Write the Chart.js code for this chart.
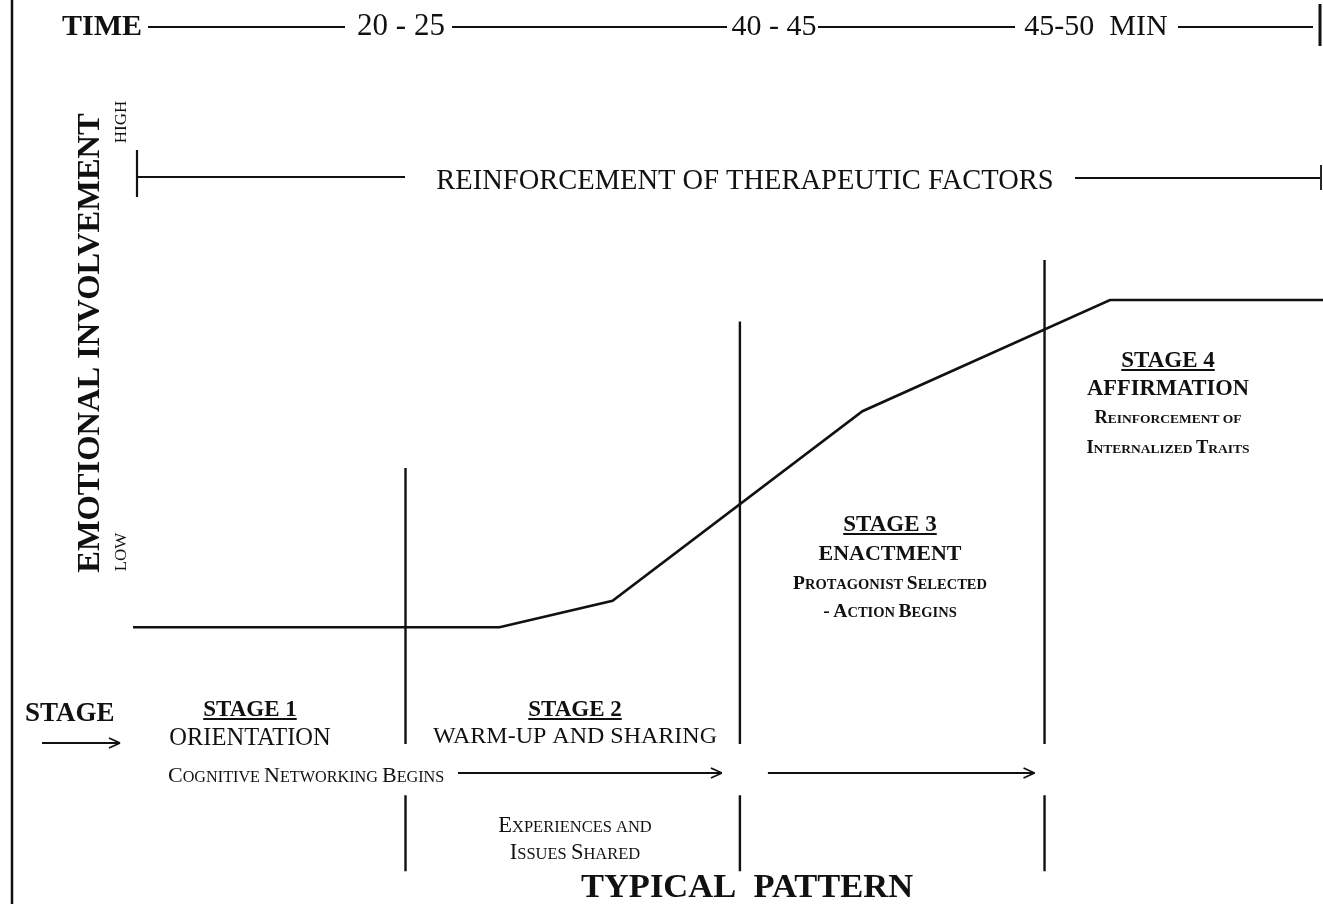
<!DOCTYPE html>
<html>
<head>
<meta charset="utf-8">
<script src="https://cdn.jsdelivr.net/npm/chart.js@4.4.1/dist/chart.umd.min.js"></script>
<style>
  body { margin: 0; background: #fff; }
  canvas { display: block; }
</style>
</head>
<body>
<canvas id="chart" width="1323" height="904"></canvas>
<script>
// session progress (0-100) vs emotional involvement (0-100)
const curveX = [0, 30.8, 40.3, 61.3, 82.1, 100];
const curveY = [34.1, 34.1, 37.4, 61.1, 75.0, 75.0];

// stage boundaries on the progress axis
const stageBreaks = [22.9, 51.0, 76.6];
const breakTops = [54.0, 72.3, 80.0];
const breakLow = [19.5, 13.1, 3.6];

const timeLabels = ["20 - 25", "40 - 45", "45-50  MIN"];
const stageNames = ["STAGE 1", "STAGE 2", "STAGE 3", "STAGE 4"];
const stageTitles = ["ORIENTATION", "WARM-UP AND SHARING", "ENACTMENT", "AFFIRMATION"];

// one dataset per divider: upper part, gap, lower part
const dividerSets = stageBreaks.map((b, i) => ({
  data: [
    { x: b, y: breakTops[i] },
    { x: b, y: breakLow[0] },
    { x: b, y: null },
    { x: b, y: breakLow[1] },
    { x: b, y: breakLow[2] }
  ],
  borderColor: "#111",
  borderWidth: 2.4,
  pointRadius: 0,
  spanGaps: false
}));

const serif = '"Liberation Serif", "DejaVu Serif", serif';

function smallCaps(ctx, text, x, y, big, small, align, bold) {
  const b = bold ? "bold " : "";
  const parts = [];
  for (const ch of text) {
    const up = ch === ch.toUpperCase() && ch !== " ";
    parts.push({ t: ch.toUpperCase(), s: up ? big : small });
  }
  let w = 0;
  parts.forEach(p => {
    ctx.font = b + p.s + "px " + serif;
    p.w = ctx.measureText(p.t).width;
    w += p.w;
  });
  let cx = align === "left" ? x : x - w / 2;
  ctx.textAlign = "left";
  ctx.textBaseline = "alphabetic";
  parts.forEach(p => {
    ctx.font = b + p.s + "px " + serif;
    ctx.fillText(p.t, cx, y);
    cx += p.w;
  });
}

function line(ctx, x1, y1, x2, y2, w) {
  ctx.lineWidth = w || 2;
  ctx.beginPath();
  ctx.moveTo(x1, y1);
  ctx.lineTo(x2, y2);
  ctx.stroke();
}

function arrow(ctx, x1, x2, y) {
  line(ctx, x1, y, x2, y, 1.8);
  line(ctx, x2 - 11, y - 5, x2, y, 1.8);
  line(ctx, x2 - 11, y + 5, x2, y, 1.8);
}

function text(ctx, t, x, y, size, bold, align) {
  ctx.font = (bold ? "bold " : "") + size + "px " + serif;
  ctx.textAlign = align || "center";
  ctx.textBaseline = "alphabetic";
  ctx.fillText(t, x, y);
}

function heading(ctx, t, x, y, size) {
  text(ctx, t, x, y, size, true);
  ctx.font = "bold " + size + "px " + serif;
  const w = ctx.measureText(t).width;
  line(ctx, x - w / 2, y + 3, x + w / 2, y + 3, 1.8);
}

const diagram = {
  id: "diagram",
  beforeDraw(chart) {
    const ctx = chart.ctx;
    ctx.save();
    ctx.fillStyle = "#fff";
    ctx.fillRect(0, 0, chart.width, chart.height);
    ctx.restore();
  },
  afterDraw(chart) {
    const ctx = chart.ctx;
    const xs = chart.scales.x;
    const px = v => xs.getPixelForValue(v);
    ctx.save();
    ctx.fillStyle = "#111";
    ctx.strokeStyle = "#111";

    // page border on the left
    line(ctx, 12, 0, 12, 904, 2.5);

    // time row
    text(ctx, "TIME", 62, 35, 30, true, "left");
    line(ctx, 148, 27, 345, 27, 1.8);
    text(ctx, timeLabels[0], 401, 35, 31, false);
    line(ctx, 452, 27, 727, 27, 1.8);
    text(ctx, timeLabels[1], 774, 35, 30, false);
    line(ctx, 818, 27, 1015, 27, 1.8);
    text(ctx, timeLabels[2], 1096, 35, 30, false);
    line(ctx, 1178, 27, 1313, 27, 1.8);
    line(ctx, 1320, 4, 1320, 46, 3);

    // reinforcement bar
    line(ctx, 137, 150, 137, 197, 2.2);
    line(ctx, 137, 177, 405, 177, 1.8);
    text(ctx, "REINFORCEMENT OF THERAPEUTIC FACTORS", 745, 189, 28.5, false);
    line(ctx, 1075, 178, 1320, 178, 1.8);
    line(ctx, 1321, 165, 1321, 190, 1.8);

    // y axis title
    ctx.save();
    ctx.translate(99, 343);
    ctx.rotate(-Math.PI / 2);
    text(ctx, "EMOTIONAL INVOLVEMENT", 0, 0, 32.5, true);
    ctx.restore();
    ctx.save();
    ctx.translate(126, 122);
    ctx.rotate(-Math.PI / 2);
    text(ctx, "HIGH", 0, 0, 17, false);
    ctx.restore();
    ctx.save();
    ctx.translate(126, 552);
    ctx.rotate(-Math.PI / 2);
    text(ctx, "LOW", 0, 0, 17, false);
    ctx.restore();

    // stage row
    text(ctx, "STAGE", 25, 721, 27, true, "left");
    arrow(ctx, 42, 120, 743);

    const c1 = 250, c2 = 575;
    const c3 = 890, c4 = 1168;
    heading(ctx, stageNames[0], c1, 716, 23);
    text(ctx, stageTitles[0], c1, 745, 24.5, false);
    heading(ctx, stageNames[1], c2, 716, 23);
    text(ctx, stageTitles[1], c2, 743, 24, false);
    heading(ctx, stageNames[2], c3, 531, 23);
    text(ctx, stageTitles[2], c3, 560, 22, true);
    smallCaps(ctx, "Protagonist Selected", c3, 589, 19.5, 14.5, "center", true);
    smallCaps(ctx, "- Action Begins", c3, 617, 19.5, 14.5, "center", true);
    heading(ctx, stageNames[3], c4, 367, 23);
    text(ctx, stageTitles[3], c4, 395, 22.5, true);
    smallCaps(ctx, "Reinforcement of", c4, 423, 18.5, 13.5, "center", true);
    smallCaps(ctx, "Internalized Traits", c4, 453, 18.5, 13.5, "center", true);

    smallCaps(ctx, "Cognitive Networking Begins", 168, 782, 22, 16.2, "left");
    arrow(ctx, 458, px(stageBreaks[1]) - 18, 773);
    arrow(ctx, px(stageBreaks[1]) + 28, px(stageBreaks[2]) - 10, 773);

    smallCaps(ctx, "Experiences and", c2, 832, 22.5, 16.5);
    smallCaps(ctx, "Issues Shared", c2, 859, 22.5, 16.5);

    text(ctx, "TYPICAL  PATTERN", 747, 897, 34.5, true);
    ctx.restore();
  }
};

new Chart(document.getElementById("chart"), {
  type: "line",
  data: {
    datasets: [
      {
        data: curveX.map((x, i) => ({ x: x, y: curveY[i] })),
        borderColor: "#111",
        borderWidth: 2.6,
        pointRadius: 0,
        tension: 0
      },
      ...dividerSets
    ]
  },
  options: {
    responsive: false,
    animation: false,
    layout: { padding: { left: 133, right: 0, top: 100, bottom: 4 } },
    scales: {
      x: { type: "linear", min: 0, max: 100, display: false },
      y: { type: "linear", min: 0, max: 100, display: false }
    },
    plugins: {
      legend: { display: false },
      tooltip: { enabled: false }
    }
  },
  plugins: [diagram]
});
</script>
</body>
</html>
